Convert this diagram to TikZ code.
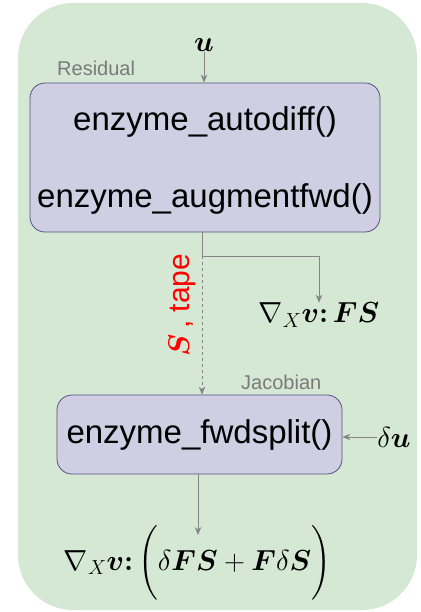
\RequirePackage{fix-cm}
\documentclass[tikz,border=0pt]{standalone}
\usepackage{amsmath}
\usepackage{fontspec}
\usepackage{bm}
\newfontfamily\arial{Liberation Sans}
\usetikzlibrary{arrows.meta}
\definecolor{panelgreen}{HTML}{D5E8D4}
\definecolor{boxfill}{HTML}{D0CEE2}
\definecolor{boxline}{HTML}{56517E}
\definecolor{wirecol}{HTML}{858585}
\definecolor{captioncol}{HTML}{7A7A7A}
\tikzset{
  stagebox/.style={draw=boxline, fill=boxfill, rounded corners=15pt, line width=0.8pt, inner sep=0pt},
  fn/.style={font=\arial\fontsize{33}{40}\selectfont, inner sep=0pt},
  tag/.style={font=\arial\fontsize{20}{24}\selectfont, text=captioncol, inner sep=0pt},
  mathlbl/.style={font=\fontsize{29}{35}\selectfont, inner sep=0pt},
  flow/.style={draw=wirecol, line width=0.9pt, -{Stealth[length=8pt,width=6.5pt,inset=2.5pt]}},
}
\begin{document}
\begin{tikzpicture}[x=1pt,y=-1pt]
\useasboundingbox (0,0) rectangle (420,612);
% background panel
\fill[panelgreen, rounded corners=55pt] (18,3) rectangle (417,610);

% residual stage
\node[stagebox, minimum width=350pt, minimum height=149pt] (res) at (205,157.5) {};
\node[fn] (autodiff) at (205,122) {enzyme\_autodiff()};
\node[fn] (augfwd) at (205,199) {enzyme\_augmentfwd()};
\node[tag, anchor=base west] (reslbl) at (57,76) {Residual};

% input u
\node[mathlbl] (u) at (204,45) {$\bm{u}$};
\draw[flow] (u.south) -- (res.north -| u);

% jacobian stage
\node[stagebox, fn, minimum width=285pt, minimum height=79pt] (jac) at (199.5,434.5) {enzyme\_fwdsplit()};
\node[tag, anchor=base west] (jaclbl) at (241,389) {Jacobian};

% outputs and perturbation
\node[mathlbl] (fs) at (319,315) {$\nabla_X \bm{v{:}}\, \bm{F}\bm{S}$};
\node[mathlbl] (du) at (394,437) {$\delta\bm{u}$};
\node[mathlbl] (jv) at (197.5,563) {$\nabla_X \bm{v{:}}\, \bigg(\delta\bm{F}\bm{S}+\bm{F}\delta\bm{S}\bigg)$};

% connectors
\coordinate (split) at (202,256);
\coordinate (jvtop) at (198,535);
\draw[draw=wirecol, line width=0.9pt] (res.south -| split) -- (split);
\draw[flow] (split) -| (fs.north);
\draw[flow, dashed, dash pattern=on 3pt off 3pt] (split) -- (jac.north -| split);
\draw[flow] (du.west) -- (jac.east |- du);
\draw[flow] (jac.south -| jvtop) -- (jvtop);

% tape label along the dashed wire
\node[rotate=90, text=red, font=\fontsize{30}{36}\selectfont, inner sep=0pt] (tape) at (182,305) {$\bm{S}$\,{\arial , tape}};
\end{tikzpicture}
\end{document}
